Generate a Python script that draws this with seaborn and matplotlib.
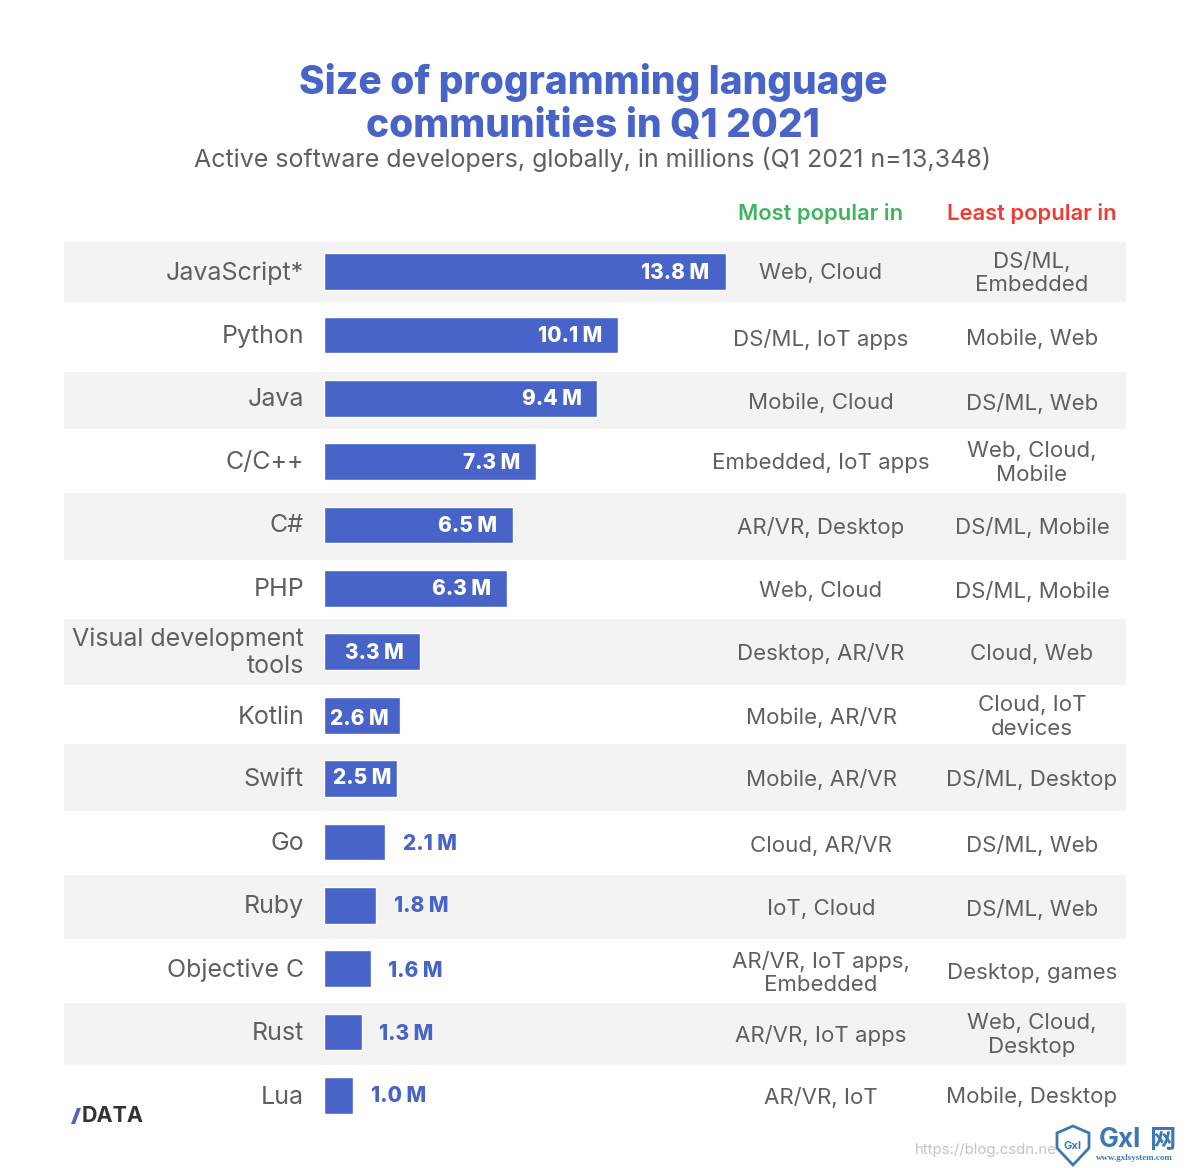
import matplotlib
matplotlib.use("Agg")
import matplotlib.pyplot as plt
from matplotlib.patches import Polygon
import seaborn as sns
import pandas as pd

# === Data ===
languages = ["JavaScript*", "Python", "Java", "C/C++", "C#", "PHP",
             "Visual development\ntools", "Kotlin", "Swift", "Go", "Ruby",
             "Objective C", "Rust", "Lua"]
developers = [13.8, 10.1, 9.4, 7.3, 6.5, 6.3, 3.3, 2.6, 2.5, 2.1, 1.8, 1.6, 1.3, 1.0]
most_popular = ["Web, Cloud", "DS/ML, IoT apps", "Mobile, Cloud", "Embedded, IoT apps",
                "AR/VR, Desktop", "Web, Cloud", "Desktop, AR/VR", "Mobile, AR/VR",
                "Mobile, AR/VR", "Cloud, AR/VR", "IoT, Cloud",
                "AR/VR, IoT apps,\nEmbedded", "AR/VR, IoT apps", "AR/VR, IoT"]
least_popular = ["DS/ML,\nEmbedded", "Mobile, Web", "DS/ML, Web", "Web, Cloud,\nMobile",
                 "DS/ML, Mobile", "DS/ML, Mobile", "Cloud, Web", "Cloud, IoT\ndevices",
                 "DS/ML, Desktop", "DS/ML, Web", "DS/ML, Web", "Desktop, games",
                 "Web, Cloud,\nDesktop", "Mobile, Desktop"]

# band edges in figure pixels
band_tops = [242, 372, 493, 619, 744, 875, 1003]
band_bottoms = [302, 429, 560, 685, 811, 939, 1065]
bar_centers = [272, 335, 399, 462, 525, 589, 652, 716, 779, 842, 906, 969, 1032, 1096]
text_centers = [273, 339, 403, 463, 528, 591, 654, 717, 779, 845, 909, 973, 1035, 1097]
label_centers = [273, 336, 400, 463, 526, 590, 653, 720, 778, 844, 907, 971, 1034, 1097]

BLUE = "#4864c8"
GREY = "#5f5f5f"
W, H = 1190, 1168

sns.set_theme(style="white")
plt.rcParams['font.family'] = ['Inter', 'DejaVu Sans']

df = pd.DataFrame({"language": languages, "developers": developers})

fig = plt.figure(figsize=(W / 100, H / 100), dpi=100)
ax = fig.add_axes([0, 0, 1, 1])
ax.set_xlim(0, W)
ax.set_ylim(H, 0)
ax.axis("off")

# grey bands behind the rows
for top, bottom in zip(band_tops, band_bottoms):
    ax.axhspan(top, bottom, xmin=64 / W, xmax=1126 / W, color="#f3f3f3", lw=0, zorder=0)

# bars live in their own axes so the x scale is in millions
bar_left, bar_right = 324, 725.5
bar_ax = fig.add_axes([bar_left / W, 0, (bar_right - bar_left) / W, 1])
bar_ax.patch.set_alpha(0)
sns.barplot(data=df, x="developers", y="language", orient="h", color=BLUE,
            saturation=1, width=0.58, ax=bar_ax, order=languages)
bar_ax.set_xlim(0, 13.8)
# spread the 14 categories so they fall on the picture's row centres
row_step = (bar_centers[-1] - bar_centers[0]) / 13
bar_ax.set_ylim((H - bar_centers[0] + 0.5) / row_step, (-bar_centers[0] + 0.5) / row_step)
bar_ax.axis("off")

for i, (val, y) in enumerate(zip(developers, label_centers)):
    label = f"{val:.1f} M"
    yy = i + (y - bar_centers[i]) / row_step
    if val >= 2.5:
        pad = {2.6: 0.39, 2.5: 0.2}.get(val, 0.55)
        bar_ax.text(val - pad, yy, label, color="white", ha="right", va="center",
                    fontsize=15, fontweight="heavy")
    else:
        bar_ax.text(val + 0.6, yy, label, color=BLUE, ha="left", va="center",
                    fontsize=15, fontweight="heavy")

for lang, y in zip(languages, bar_centers):
    ax.text(304, y + 1, lang, ha="right", va="center", fontsize=18, color=GREY,
            linespacing=1.2)

for most, least, y in zip(most_popular, least_popular, text_centers):
    ax.text(821, y, most, ha="center", va="center", fontsize=16, color=GREY, linespacing=1.22)
    ax.text(1032, y, least, ha="center", va="center", fontsize=16, color=GREY, linespacing=1.22)

ax.text(593, 104, "Size of programming language\ncommunities in Q1 2021", ha="center", va="center",
        fontsize=28, fontweight="heavy", color=BLUE, linespacing=1.2)
ax.text(593, 159, "Active software developers, globally, in millions (Q1 2021 n=13,348)",
        ha="center", va="center", fontsize=18, color=GREY)
ax.text(821, 213, "Most popular in", ha="center", va="center", fontsize=15.8,
        fontweight="semibold", color="#3fb45f")
ax.text(1032, 213, "Least popular in", ha="center", va="center", fontsize=15.8,
        fontweight="semibold", color="#f03c30")

# logo
ax.add_patch(Polygon([(71, 1124), (75, 1124), (81, 1108), (77, 1108)], color=BLUE, lw=0))
ax.text(82, 1116, "DATA", ha="left", va="center", fontsize=15.5, fontweight="bold", color="#333333")

# watermark
ax.text(915, 1150, "https://blog.csdn.ne", fontsize=10.8, color="#c4c4c4", va="center")
ax.add_patch(Polygon([(1057, 1133), (1073, 1126), (1089, 1133), (1089, 1148), (1073, 1165), (1057, 1148)],
                     facecolor="white", edgecolor="#3c78b4", lw=2, zorder=3))
ax.text(1073, 1146, "Gxl", fontsize=8, color="#3c78b4", ha="center", va="center",
        fontweight="bold", zorder=4)
ax.text(1099, 1140, "Gxl", fontsize=19, fontweight="bold", color="#3c78b4", va="center")
ax.text(1150, 1140, "网", fontsize=19, fontweight="bold", color="#3c78b4", va="center",
        family=["Noto Sans CJK SC", "DejaVu Sans"])
ax.text(1096, 1158, "www.gxlsystem.com", fontsize=6.5, fontweight="bold", color="#3c78b4",
        va="center", family="Liberation Serif")

fig.savefig("out.png", dpi=100)
